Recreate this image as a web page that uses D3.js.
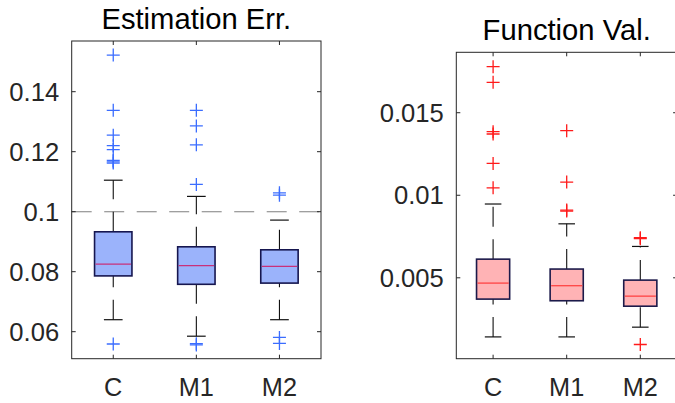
<!DOCTYPE html>
<html><head><meta charset="utf-8">
<script src="https://cdn.jsdelivr.net/npm/d3@7"></script>
<style>body{margin:0;background:#fff;}svg{display:block;font-family:"Liberation Sans",Arial,sans-serif;}</style>
</head><body>
<svg id="c" width="675" height="403"></svg>
<script>
// ---------- data ----------
const categories = ["C", "M1", "M2"];

// Panel 1: Estimation Err.
const errTitle = "Estimation Err.";
const errLow  = [0.0640, 0.0585, 0.0640];
const errQ1   = [0.0786, 0.0758, 0.0762];
const errMed  = [0.0825, 0.0820, 0.0818];
const errQ3   = [0.0933, 0.0883, 0.0873];
const errHigh = [0.1105, 0.1051, 0.0972];
const errOutliers = [
  [0.1522, 0.1338, 0.1255, 0.1220, 0.1207, 0.1171, 0.1166, 0.1162, 0.0559],
  [0.1338, 0.1286, 0.1223, 0.1091, 0.0560, 0.0556],
  [0.1063, 0.1055, 0.0581, 0.0561]
];
const errTicks = [0.06, 0.08, 0.1, 0.12, 0.14];
const errTickLabels = ["0.06", "0.08", "0.1", "0.12", "0.14"];
const errRefLine = 0.1;

// Panel 2: Function Val.
const fvTitle = "Function Val.";
const fvLow  = [0.00142, 0.00142, 0.00201];
const fvQ1   = [0.00371, 0.00361, 0.00328];
const fvMed  = [0.00468, 0.00452, 0.00389];
const fvQ3   = [0.00613, 0.00553, 0.00486];
const fvHigh = [0.00947, 0.00827, 0.00690];
const fvOutliers = [
  [0.01779, 0.01684, 0.01385, 0.01371, 0.01193, 0.01045],
  [0.01391, 0.01080, 0.00910, 0.00904],
  [0.00743, 0.00737, 0.00096]
];
const fvTicks = [0.005, 0.01, 0.015];
const fvTickLabels = ["0.005", "0.01", "0.015"];

// ---------- drawing ----------
const svg = d3.select("#c");
const axisColor = "#262626";

function panel(opt) {
  const g = svg.append("g");
  const x = d3.scalePoint().domain(categories).range([opt.left, opt.right]).padding(0.5);
  const y = d3.scaleLinear().domain(opt.domain).range([opt.bottom, opt.top]);
  const step = x.step();
  const bw = step * 0.45;

  if (opt.ref !== undefined) {
    g.append("line")
      .attr("x1", opt.left).attr("x2", opt.right)
      .attr("y1", y(opt.ref)).attr("y2", y(opt.ref))
      .attr("stroke", "#808080").attr("stroke-width", 1.1)
      .attr("stroke-dasharray", "20,12.5");
  }

  const stats = categories.map((c, i) => ({
    c, low: opt.low[i], q1: opt.q1[i], med: opt.med[i], q3: opt.q3[i], high: opt.high[i], out: opt.out[i]
  }));

  const b = g.selectAll("g.box").data(stats).enter().append("g");
  b.append("line")
    .attr("x1", d => x(d.c)).attr("x2", d => x(d.c))
    .attr("y1", d => y(d.q3)).attr("y2", d => y(d.high))
    .attr("stroke", "#111").attr("stroke-width", 1.1).attr("stroke-dasharray", "20,12.5");
  b.append("line")
    .attr("x1", d => x(d.c)).attr("x2", d => x(d.c))
    .attr("y1", d => y(d.low)).attr("y2", d => y(d.q1))
    .attr("stroke", "#111").attr("stroke-width", 1.1).attr("stroke-dasharray", "20,12.5");
  ["low", "high"].forEach(k => {
    b.append("line")
      .attr("x1", d => x(d.c) - bw / 4).attr("x2", d => x(d.c) + bw / 4)
      .attr("y1", d => y(d[k])).attr("y2", d => y(d[k]))
      .attr("stroke", "#111").attr("stroke-width", 1.2);
  });
  b.append("rect")
    .attr("x", d => x(d.c) - bw / 2).attr("width", bw)
    .attr("y", d => y(d.q3)).attr("height", d => y(d.q1) - y(d.q3))
    .attr("fill", opt.fill).attr("stroke", opt.edge).attr("stroke-width", 1.6);
  b.append("line")
    .attr("x1", d => x(d.c) - bw / 2 + 1).attr("x2", d => x(d.c) + bw / 2 - 1)
    .attr("y1", d => y(d.med)).attr("y2", d => y(d.med))
    .attr("stroke", opt.medColor).attr("stroke-width", 1.2);
  const hs = 6.5;
  b.each(function (d) {
    const gg = d3.select(this);
    d.out.forEach(v => {
      gg.append("path")
        .attr("d", `M${x(d.c) - hs},${y(v)}H${x(d.c) + hs}M${x(d.c)},${y(v) - hs}V${y(v) + hs}`)
        .attr("stroke", opt.outColor).attr("stroke-width", 1.3).attr("fill", "none");
    });
  });

  const tl = 4;
  const ax = g.append("g").attr("stroke", axisColor).attr("stroke-width", 1);
  ax.append("rect").attr("x", opt.left).attr("y", opt.top)
    .attr("width", opt.right - opt.left).attr("height", opt.bottom - opt.top).attr("fill", "none");
  opt.ticks.forEach(t => {
    ax.append("line").attr("x1", opt.left).attr("x2", opt.left + tl).attr("y1", y(t)).attr("y2", y(t));
    ax.append("line").attr("x1", opt.right).attr("x2", opt.right - tl).attr("y1", y(t)).attr("y2", y(t));
  });
  categories.forEach(c => {
    ax.append("line").attr("x1", x(c)).attr("x2", x(c)).attr("y1", opt.bottom).attr("y2", opt.bottom - tl);
    ax.append("line").attr("x1", x(c)).attr("x2", x(c)).attr("y1", opt.top).attr("y2", opt.top + tl);
  });

  g.selectAll("text.yt").data(opt.ticks).enter().append("text")
    .attr("x", opt.left - 12.5).attr("y", d => y(d) + 9.2)
    .attr("text-anchor", "end").attr("font-size", 25.6).attr("fill", axisColor)
    .text((d, i) => opt.tickLabels[i]);
  g.selectAll("text.xt").data(categories).enter().append("text")
    .attr("x", d => x(d)).attr("y", 396)
    .attr("text-anchor", "middle").attr("font-size", 25.3).attr("fill", axisColor)
    .text(d => d);
  g.append("text").attr("x", (opt.left + opt.right) / 2).attr("y", opt.titleY)
    .attr("text-anchor", "middle").attr("font-size", 29.2).attr("fill", "#000")
    .text(opt.title);
}

panel({
  left: 71.7, right: 321, top: 41, bottom: 358.7,
  domain: [0.051, 0.1569],
  low: errLow, q1: errQ1, med: errMed, q3: errQ3, high: errHigh, out: errOutliers,
  ticks: errTicks, tickLabels: errTickLabels, ref: errRefLine,
  fill: "#9bb3fb", edge: "#16164f", medColor: "#c8307a", outColor: "#3b6dff",
  title: errTitle, titleY: 29.3
});

panel({
  left: 456.3, right: 677.1, top: 52.3, bottom: 358.7,
  domain: [0.0001, 0.01866],
  low: fvLow, q1: fvQ1, med: fvMed, q3: fvQ3, high: fvHigh, out: fvOutliers,
  ticks: fvTicks, tickLabels: fvTickLabels,
  fill: "#ffb3b5", edge: "#1c1a4a", medColor: "#ff3a3a", outColor: "#ff1a1a",
  title: fvTitle, titleY: 40
});
</script>
</body></html>
